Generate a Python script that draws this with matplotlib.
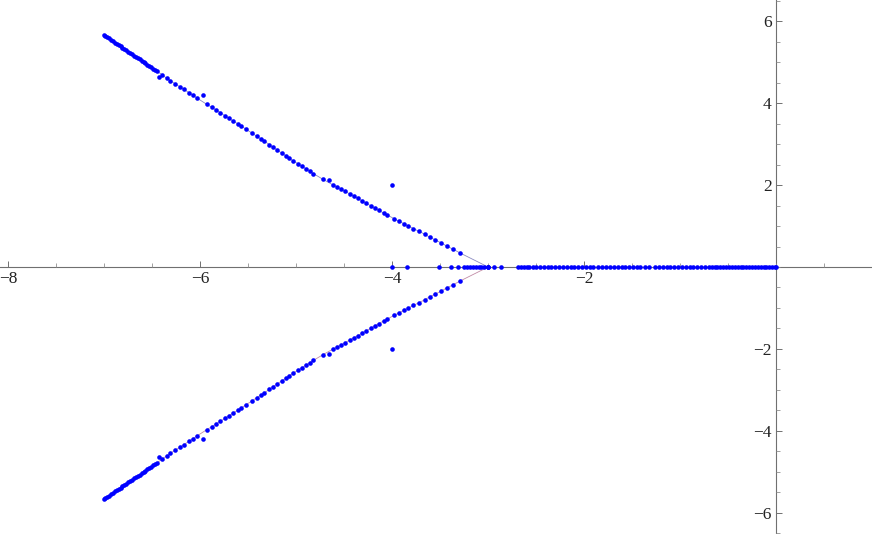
import matplotlib.pyplot as plt
import numpy as np
from matplotlib.ticker import FixedLocator
from matplotlib import font_manager

# upper complex branch (lower branch is its conjugate)
branch_re = [-7.00, -6.99, -6.97, -6.95, -6.93, -6.91, -6.89, -6.87, -6.85, -6.83,
             -6.81, -6.79, -6.77, -6.75, -6.73, -6.71, -6.69, -6.67, -6.65, -6.63,
             -6.61, -6.59, -6.57, -6.55, -6.53, -6.51, -6.49, -6.47, -6.45,
             -6.40, -6.35, -6.31, -6.26, -6.21, -6.17, -6.12, -6.08, -6.03,
             -5.93, -5.88, -5.84, -5.79, -5.74, -5.70, -5.66, -5.61, -5.57, -5.52,
             -5.46, -5.41, -5.37, -5.33, -5.28, -5.24, -5.20, -5.15, -5.11, -5.07,
             -5.03, -4.98, -4.94, -4.90, -4.86, -4.82, -4.72, -4.62, -4.57, -4.53,
             -4.49, -4.44, -4.40, -4.36, -4.31, -4.27, -4.22, -4.18, -4.14, -4.09,
             -4.05, -3.98, -3.93, -3.88, -3.83, -3.78, -3.72, -3.66, -3.61, -3.55,
             -3.49, -3.43, -3.37, -3.29, -3.00]
branch_im = [5.66, 5.64, 5.61, 5.58, 5.55, 5.52, 5.48, 5.45, 5.42, 5.39,
             5.36, 5.32, 5.29, 5.26, 5.23, 5.20, 5.16, 5.13, 5.10, 5.07,
             5.04, 5.00, 4.97, 4.94, 4.91, 4.88, 4.84, 4.81, 4.78,
             4.70, 4.61, 4.55, 4.47, 4.40, 4.34, 4.26, 4.20, 4.12,
             3.97, 3.90, 3.84, 3.77, 3.69, 3.63, 3.57, 3.50, 3.44, 3.36,
             3.27, 3.19, 3.13, 3.07, 2.99, 2.92, 2.86, 2.78, 2.72, 2.65,
             2.59, 2.52, 2.46, 2.40, 2.34, 2.28, 2.14, 2.01, 1.95, 1.90,
             1.85, 1.78, 1.73, 1.68, 1.61, 1.56, 1.49, 1.44, 1.38, 1.32,
             1.27, 1.18, 1.12, 1.06, 1.00, 0.94, 0.87, 0.80, 0.73, 0.66,
             0.59, 0.51, 0.44, 0.34, 0.00]

# stray points off the branch (upper half, mirrored below)
extra_re = [-4.00, -5.97, -6.43, -4.66]
extra_im = [2.00, 4.20, 4.63, 2.13]

# roots on the real axis
real_roots = [-4.00, -3.85, -3.51, -3.39, -3.31, -3.25, -3.22, -3.19, -3.16, -3.13,
              -3.10, -3.07, -3.04, -3.00, -2.94, -2.87, -2.69, -2.66, -2.63, -2.60,
              -2.57, -2.53, -2.50, -2.46, -2.42, -2.38, -2.34, -2.30, -2.26, -2.22,
              -2.18, -2.14, -2.10, -2.06, -2.02, -1.98, -1.94, -1.91, -1.85, -1.81,
              -1.77, -1.73, -1.69, -1.65, -1.61, -1.57, -1.53, -1.49, -1.45, -1.42,
              -1.37, -1.32, -1.26, -1.22, -1.18, -1.14, -1.10, -1.06, -1.02, -0.98,
              -0.94, -0.90, -0.86, -0.82, -0.78, -0.74, -0.70, -0.67, -0.64, -0.61,
              -0.58, -0.55, -0.52, -0.49, -0.46, -0.43, -0.40, -0.37, -0.34, -0.31,
              -0.28, -0.25, -0.22, -0.19, -0.16, -0.13, -0.10, -0.07, -0.04, -0.01, 0.00]

x_major = [-8, -6, -4, -2]
y_major = [-6, -4, -2, 2, 4, 6]

# pick a Times-like face if there is one
serif = 'DejaVu Serif'
for name in ['Liberation Serif', 'Nimbus Roman', 'Times New Roman']:
    try:
        font_manager.findfont(name, fallback_to_default=False)
        serif = name
        break
    except ValueError:
        pass
plt.rcParams['font.family'] = [serif, 'DejaVu Serif']

fig = plt.figure(figsize=(8.72, 5.34), dpi=100)
ax = fig.add_axes([0, 0, 1, 1])

up_re = np.array(branch_re)
up_im = np.array(branch_im)

# thin joining lines (Mathematica-ish default colours)
ax.plot(up_re, up_im, color=(0.24, 0.24, 0.6), lw=0.6, alpha=0.6, zorder=2)
ax.plot(up_re, -up_im, color=(0.6, 0.24, 0.42), lw=0.6, alpha=0.6, zorder=2)

pt = dict(ls='none', marker='o', ms=3.3, mew=0, color='blue', zorder=3, clip_on=False)
ax.plot(up_re, up_im, **pt)
ax.plot(up_re, -up_im, **pt)
ax.plot(extra_re, extra_im, **pt)
ax.plot(extra_re, [-v for v in extra_im], **pt)
ax.plot(real_roots, np.zeros(len(real_roots)), **pt)

ax.set_xlim(-8.086, 1.0)
ax.set_ylim(-6.52, 6.52)

# axes through the origin
for s in ['top', 'right']:
    ax.spines[s].set_visible(False)
ax.spines['left'].set_position(('data', 0))
ax.spines['bottom'].set_position(('data', 0))
for s in ['left', 'bottom']:
    ax.spines[s].set_color('#707070')
    ax.spines[s].set_linewidth(0.8)
    ax.spines[s].set_zorder(1)

ax.xaxis.set_major_locator(FixedLocator(x_major))
ax.yaxis.set_major_locator(FixedLocator(y_major))
ax.xaxis.set_minor_locator(FixedLocator(np.arange(-8, 1.01, 0.5)))
ax.yaxis.set_minor_locator(FixedLocator(np.arange(-6.5, 6.51, 0.5)))
ax.set_xticklabels([str(v).replace('-', '\u2212') for v in x_major])
ax.set_yticklabels([str(v).replace('-', '\u2212') for v in y_major])

ax.tick_params(which='major', direction='in', length=4.5, width=0.7, color='#707070',
               labelsize=12.5, pad=3)
ax.tick_params(which='minor', direction='in', length=2.8, width=0.6, color='#909090')
for lab in ax.get_xticklabels() + ax.get_yticklabels():
    lab.set_family([serif, 'DejaVu Serif'])
    lab.set_color('#222222')

fig.savefig('out.png', dpi=100)
